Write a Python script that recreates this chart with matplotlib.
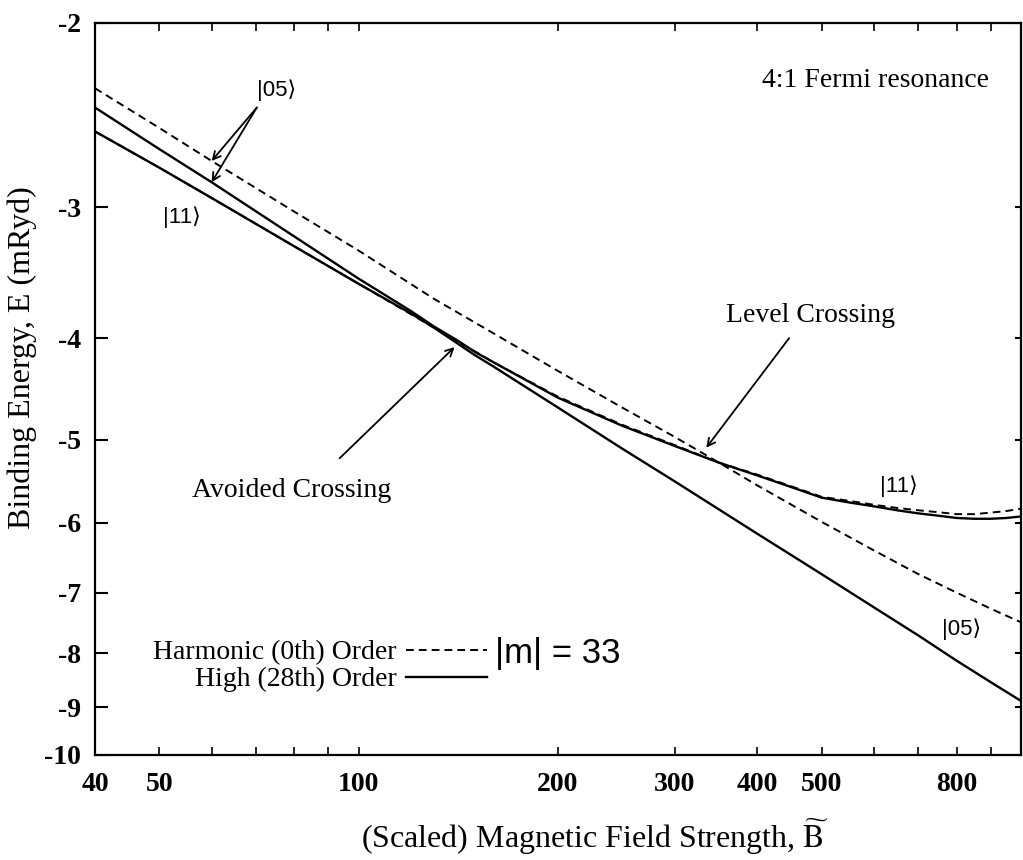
import numpy as np
import matplotlib
matplotlib.use("Agg")
import matplotlib.pyplot as plt
from matplotlib.ticker import FixedLocator, FixedFormatter, NullLocator

# ---------------- data ----------------
# Harmonic (0th order) |05> level
b_h05 = [40, 50, 60, 80, 100, 130, 160, 200, 250, 300, 350, 400, 500, 600, 700, 800, 900, 1000]
e_h05 = [-2.31, -2.52, -2.71, -3.03, -3.30, -3.67, -3.96, -4.30, -4.66, -4.97, -5.26, -5.53,
         -5.99, -6.38, -6.72, -7.00, -7.25, -7.47]

# Harmonic (0th order) |11> level
b_h11 = [40, 50, 60, 80, 100, 130, 160, 200, 250, 300, 350, 400, 450, 500, 550, 600, 650, 700,
         750, 800, 850, 900, 950, 1000]
e_h11 = [-2.54, -2.75, -2.94, -3.27, -3.55, -3.91, -4.22, -4.55, -4.84, -5.06, -5.26, -5.40,
         -5.54, -5.67, -5.72, -5.77, -5.81, -5.84, -5.865, -5.89, -5.89, -5.87, -5.85, -5.82]

# High (28th order), upper branch (|05> at low field, |11> at high field)
b_up = [40, 50, 60, 80, 100, 120, 130, 140, 150, 160, 200, 250, 300, 350, 400, 450, 500, 550,
        600, 650, 700, 750, 800, 850, 900, 950, 1000]
e_up = [-2.41, -2.64, -2.84, -3.20, -3.51, -3.77, -3.90, -4.01, -4.125, -4.22, -4.56, -4.85,
        -5.07, -5.26, -5.41, -5.55, -5.68, -5.74, -5.79, -5.84, -5.88, -5.91, -5.94, -5.95,
        -5.95, -5.94, -5.92]

# High (28th order), lower branch (|11> at low field, |05> at high field)
b_lo = [40, 50, 60, 80, 100, 120, 130, 140, 150, 160, 200, 250, 300, 400, 500, 600, 700, 800,
        900, 1000]
e_lo = [-2.54, -2.75, -2.94, -3.27, -3.55, -3.79, -3.91, -4.035, -4.155, -4.26, -4.66, -5.10,
        -5.48, -6.15, -6.72, -7.23, -7.69, -8.13, -8.52, -8.88]

x_ticks = [40, 50, 60, 70, 80, 90, 100, 200, 300, 400, 500, 600, 700, 800, 900]
x_labels = ["40", "50", "", "", "", "", "100", "200", "300", "400", "500", "", "", "800", ""]
y_ticks = [-2, -3, -4, -5, -6, -7, -8, -9, -10]
y_labels = ["-2", "-3", "-4", "-5", "-6", "-7", "-8", "-9", "-10"]

legend_labels = ["Harmonic (0th) Order", "High (28th) Order"]

# ---------------- figure ----------------
plt.rcParams["mathtext.fontset"] = "stix"
SERIF = "Liberation Serif"
SANS = "Liberation Sans"

W, H = 1023, 860
fig = plt.figure(figsize=(W / 100, H / 100), dpi=100)
x0, x1, y0, y1 = 95, 1021, 22.7, 755
ax = fig.add_axes([x0 / W, 1 - y1 / H, (x1 - x0) / W, (y1 - y0) / H])


def fwd(y):
    y = np.asarray(y, dtype=float)
    with np.errstate(all="ignore"):
        return -np.log10(-y)


def inv(t):
    t = np.asarray(t, dtype=float)
    return -np.power(10.0, -t)


ax.set_xscale("log")
ax.set_yscale("function", functions=(fwd, inv))
ax.set_xlim(40, 1000)
ax.set_ylim(-10, -2)

dash = (0, (4, 2.6))
l_h05, = ax.plot(b_h05, e_h05, color="black", lw=1.4, ls=dash)
l_h11, = ax.plot(b_h11, e_h11, color="black", lw=1.4, ls=dash)
l_up, = ax.plot(b_up, e_up, color="black", lw=1.7)
l_lo, = ax.plot(b_lo, e_lo, color="black", lw=1.7)

# ticks
ax.xaxis.set_major_locator(FixedLocator(x_ticks))
ax.xaxis.set_major_formatter(FixedFormatter(x_labels))
ax.xaxis.set_minor_locator(NullLocator())
ax.yaxis.set_major_locator(FixedLocator(y_ticks))
ax.yaxis.set_major_formatter(FixedFormatter(y_labels))
ax.yaxis.set_minor_locator(NullLocator())
ax.tick_params(axis="x", which="major", direction="in", length=6, width=1.2,
               top=True, bottom=True, pad=12)
ax.tick_params(axis="y", which="major", direction="in", length=9, width=1.5,
               left=True, right=False, pad=10)
for lab in ax.get_xticklabels() + ax.get_yticklabels():
    lab.set_fontfamily(SERIF)
    lab.set_fontweight("bold")
    lab.set_fontsize(20)
for sp in ax.spines.values():
    sp.set_linewidth(1.6)

ax2 = ax.twinx()
ax2.set_yscale("function", functions=(fwd, inv))
ax2.set_ylim(-10, -2)
ax2.yaxis.set_major_locator(FixedLocator(y_ticks))
ax2.yaxis.set_minor_locator(NullLocator())
ax2.tick_params(axis="y", direction="in", length=4, width=1.5, labelright=False)
for sp in ax2.spines.values():
    sp.set_visible(False)

# axis labels
fig.text(595 / W, 1 - 837 / H,
         "(Scaled) Magnetic Field Strength, " + r"$\widetilde{\mathrm{B}}$",
         ha="center", va="center", fontsize=23, family=SERIF)
fig.text(22 / W, 1 - 358 / H, "Binding Energy, E (mRyd)", rotation=90,
         ha="center", va="center", fontsize=23, family=SERIF)

# annotations
arrow = dict(arrowstyle="->,head_length=0.55,head_width=0.28", color="black", lw=1.3,
             shrinkA=0, shrinkB=0)
ket_font = dict(family=[SANS, "DejaVu Sans"], fontsize=16)

ax.text(70.2, -2.32, "|05\u27e9", ha="left", va="center", **ket_font)
ax.annotate("", xy=(60, -2.71), xytext=(70.2, -2.41), arrowprops=arrow)
ax.annotate("", xy=(60, -2.84), xytext=(70.2, -2.41), arrowprops=arrow)
ax.text(54.1, -3.07, "|11\u27e9", ha="center", va="center", **ket_font)
ax.text(655, -5.545, "|11\u27e9", ha="center", va="center", **ket_font)
ax.text(812, -7.58, "|05\u27e9", ha="center", va="center", **ket_font)

ax.text(604, -2.27, "4:1 Fermi resonance", ha="center", va="center",
        fontsize=20, family=SERIF)

ax.text(480.6, -3.81, "Level Crossing", ha="center", va="center", fontsize=20, family=SERIF)
ax.annotate("", xy=(334.9, -5.09), xytext=(446.7, -4.00), arrowprops=arrow)

ax.text(79.3, -5.59, "Avoided Crossing", ha="center", va="center", fontsize=20, family=SERIF)
ax.annotate("", xy=(139.6, -4.08), xytext=(93.6, -5.21), arrowprops=arrow)

ax.text(200, -8.0, "|m| = 33", ha="center", va="center", fontsize=25, family=SANS)

leg = ax.legend([l_h05, l_up], legend_labels, loc="upper right",
                bbox_to_anchor=(487 / W, 1 - 640 / H), bbox_transform=fig.transFigure,
                frameon=False, markerfirst=False, handlelength=2.9, handletextpad=0.35,
                labelspacing=0.05, borderpad=0, borderaxespad=0,
                prop={"family": SERIF, "size": 20})

fig.savefig("out.png", dpi=100)
